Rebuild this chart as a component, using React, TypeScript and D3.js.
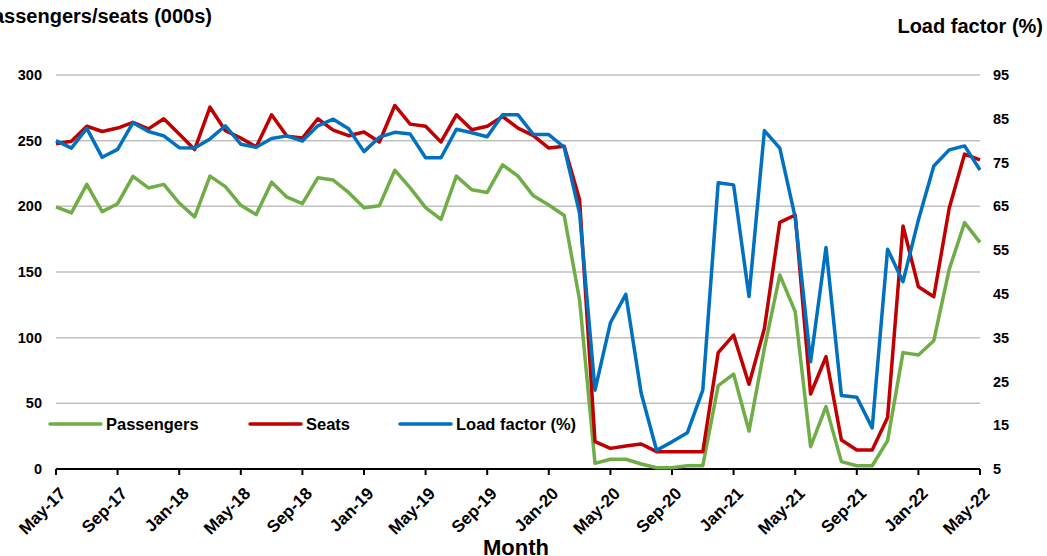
import React from 'react';
import * as d3 from 'd3';

const months = [
  "May-17","Jun-17","Jul-17","Aug-17","Sep-17","Oct-17","Nov-17","Dec-17",
  "Jan-18","Feb-18","Mar-18","Apr-18","May-18","Jun-18","Jul-18","Aug-18","Sep-18","Oct-18","Nov-18","Dec-18",
  "Jan-19","Feb-19","Mar-19","Apr-19","May-19","Jun-19","Jul-19","Aug-19","Sep-19","Oct-19","Nov-19","Dec-19",
  "Jan-20","Feb-20","Mar-20","Apr-20","May-20","Jun-20","Jul-20","Aug-20","Sep-20","Oct-20","Nov-20","Dec-20",
  "Jan-21","Feb-21","Mar-21","Apr-21","May-21","Jun-21","Jul-21","Aug-21","Sep-21","Oct-21","Nov-21","Dec-21",
  "Jan-22","Feb-22","Mar-22","Apr-22","May-22"
];

const passengers = [
  199.5, 195, 216.7, 196, 202, 222.8, 214, 216.7,
  202.5, 192, 223, 215, 200.8, 193.7, 218.4, 207, 202, 221.7, 220, 210.6,
  199, 200.5, 227.5, 214, 199, 190, 223, 212.6, 210.6, 231.6, 223, 208,
  201, 193, 128.7, 4.3, 7.4, 7.4, 3.8, 1.0, 1.0, 2.5, 2.5, 63.5,
  72.3, 28.9, 91.9, 147.7, 119.8, 17.0, 47.5, 5.6, 2.5, 2.5, 21.6, 88.6,
  86.8, 97.7, 152, 187.6, 172.6
];

const seats = [
  247.7, 249.5, 261, 257, 259.6, 264, 259, 266.7,
  255, 243.2, 275.5, 257.6, 252, 245.2, 269.7, 253.3, 252, 266.7, 258, 253.8,
  256.6, 249, 276.8, 262.6, 261, 249, 269.7, 258.3, 261, 268.4, 259.6, 253.8,
  244.4, 245.7, 205, 20.8, 15.7, 17.5, 19.0, 13.2, 13.2, 13.2, 13.2, 88.6,
  102, 64.5, 107, 187.8, 193.4, 57.1, 85.5, 22.1, 14.5, 14.5, 39.3, 185,
  138.8, 131.2, 198.5, 239.8, 235.3
];

const loadFactor = [
  80.0, 78.3, 82.8, 76.2, 78.0, 84.1, 82.1, 81.1,
  78.4, 78.3, 80.4, 83.4, 79.2, 78.5, 80.5, 81.1, 79.9, 83.4, 84.9, 82.7,
  77.5, 80.8, 81.9, 81.5, 76.1, 76.1, 82.6, 81.8, 80.9, 85.9, 85.9, 81.4,
  81.4, 78.5, 63.4, 23.0, 38.4, 44.9, 22.3, 9.3, 11.2, 13.3, 23.0, 70.4,
  69.9, 44.4, 82.3, 78.3, 62.5, 29.5, 55.6, 21.8, 21.4, 14.4, 55.2, 47.8,
  61.9, 74.2, 77.9, 78.8, 73.3
];

const leftTicks = [0, 50, 100, 150, 200, 250, 300];
const rightTicks = [5, 15, 25, 35, 45, 55, 65, 75, 85, 95];
const xTickLabels = [
  "May-17","Sep-17","Jan-18","May-18","Sep-18","Jan-19","May-19","Sep-19",
  "Jan-20","May-20","Sep-20","Jan-21","May-21","Sep-21","Jan-22","May-22"
];

const seriesNames = ["Passengers", "Seats", "Load factor (%)"];
const colors = ["#70AD47", "#C00000", "#0070C0"];

const FONT = "'Liberation Sans', Arial, Helvetica, sans-serif";

export default function App() {
  const W = 1047, H = 556;
  const x0 = 56, x1 = 980, yTop = 75, yBot = 469;
  const x = d3.scalePoint<string>().domain(months).range([x0, x1]);
  const yL = d3.scaleLinear().domain([0, 300]).range([yBot, yTop]);
  const yR = d3.scaleLinear().domain([5, 95]).range([yBot, yTop]);

  const lineL = d3.line<number>().x((_, i) => x(months[i]) as number).y(d => yL(d));
  const lineR = d3.line<number>().x((_, i) => x(months[i]) as number).y(d => yR(d));

  const legendItems = [
    { name: seriesNames[0], color: colors[0], lx: 50 },
    { name: seriesNames[1], color: colors[1], lx: 250 },
    { name: seriesNames[2], color: colors[2], lx: 400 },
  ];

  return (
    <svg width={W} height={H} style={{ position: 'absolute', left: 0, top: 0, background: '#fff' }}
      fontFamily={FONT}>
      <rect x={0} y={0} width={W} height={H} fill="#fff" />
      {/* gridlines */}
      {leftTicks.filter(t => t > 0).map(t => (
        <line key={t} x1={x0} x2={x1} y1={yL(t)} y2={yL(t)} stroke="#C0C0C0" strokeWidth={1.5} />
      ))}
      {/* left tick labels */}
      {leftTicks.map(t => (
        <text key={t} x={42} y={yL(t)} dy="0.35em" textAnchor="end" fontSize={14.5} fontWeight="bold">{t}</text>
      ))}
      {/* right tick labels */}
      {rightTicks.map(t => (
        <text key={t} x={993} y={yR(t)} dy="0.35em" textAnchor="start" fontSize={14.5} fontWeight="bold">{t}</text>
      ))}
      {/* x axis */}
      <line x1={x0} x2={x1} y1={yBot} y2={yBot} stroke="#000" strokeWidth={2} />
      {xTickLabels.map(m => {
        const px = x(m) as number;
        return (
          <g key={m}>
            <line x1={px} x2={px} y1={yBot} y2={yBot + 6} stroke="#000" strokeWidth={2} />
            <text transform={`translate(${px + 2},${yBot + 17}) rotate(-45)`} textAnchor="end" dy="0.72em"
              fontSize={17} fontWeight="bold">{m}</text>
          </g>
        );
      })}
      {/* series */}
      <path d={lineL(passengers) || ''} fill="none" stroke={colors[0]} strokeWidth={3.5} strokeLinejoin="round" />
      <path d={lineL(seats) || ''} fill="none" stroke={colors[1]} strokeWidth={3.5} strokeLinejoin="round" />
      <path d={lineR(loadFactor) || ''} fill="none" stroke={colors[2]} strokeWidth={3.5} strokeLinejoin="round" />
      {/* legend */}
      {legendItems.map(it => (
        <g key={it.name}>
          <line x1={it.lx} x2={it.lx + 51} y1={424} y2={424} stroke={it.color} strokeWidth={3.5} strokeLinecap="round" />
          <text x={it.lx + 56} y={424} dy="0.36em" fontSize={16.5} fontWeight="bold">{it.name}</text>
        </g>
      ))}
      {/* axis titles */}
      <text x={212} y={23} textAnchor="end" fontSize={20} fontWeight="bold">Passengers/seats (000s)</text>
      <text x={1043} y={33} textAnchor="end" fontSize={20} fontWeight="bold">Load factor (%)</text>
      <text x={516} y={555} textAnchor="middle" fontSize={22} fontWeight="bold">Month</text>
    </svg>
  );
}
